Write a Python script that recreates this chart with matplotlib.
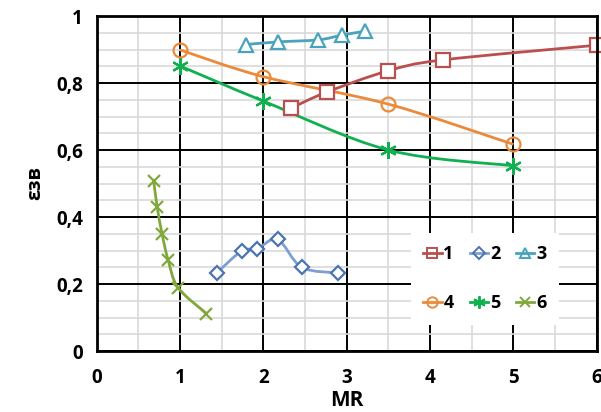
import numpy as np
import matplotlib
matplotlib.use('Agg')
from matplotlib import pyplot as plt
from matplotlib.path import Path
from matplotlib.patches import PathPatch
from matplotlib.ticker import MultipleLocator, FuncFormatter

plt.rcParams['font.family'] = ['Open Sans', 'DejaVu Sans']
plt.rcParams['font.weight'] = 'bold'

# series data (MR, eps)
x1 = [2.33, 2.76, 3.49, 4.15, 6.0]
y1 = [0.725, 0.773, 0.836, 0.869, 0.913]
x2 = [1.44, 1.74, 1.92, 2.17, 2.46, 2.90]
y2 = [0.233, 0.299, 0.304, 0.333, 0.25, 0.233]
x3 = [1.79, 2.18, 2.66, 2.94, 3.22]
y3 = [0.915, 0.923, 0.929, 0.943, 0.955]
x4 = [1.0, 2.0, 3.5, 5.0]
y4 = [0.899, 0.819, 0.737, 0.617]
x5 = [1.0, 2.0, 3.5, 5.0]
y5 = [0.851, 0.746, 0.600, 0.553]
x6 = [0.684, 0.724, 0.784, 0.856, 0.976, 1.316]
y6 = [0.507, 0.431, 0.349, 0.272, 0.189, 0.112]
labels = ['1', '2', '3', '4', '5', '6']


def smooth_patch(x, y, color, lw):
  """Excel-like smoothed line (Catmull-Rom as cubic Bezier)."""
  p = np.column_stack([x, y]).astype(float)
  pts = np.vstack([p[0], p, p[-1]])
  verts = [tuple(p[0])]
  codes = [Path.MOVETO]
  for i in range(1, len(pts) - 2):
    p0, p1, p2, p3 = pts[i - 1], pts[i], pts[i + 1], pts[i + 2]
    c1 = p1 + (p2 - p0) / 6.0
    c2 = p2 - (p3 - p1) / 6.0
    verts += [tuple(c1), tuple(c2), tuple(p2)]
    codes += [Path.CURVE4] * 3
  return PathPatch(Path(verts, codes), facecolor='none', edgecolor=color,
                   lw=lw, zorder=3)


fig = plt.figure(figsize=(6.01, 4.12), dpi=100)
ax = fig.add_axes([0.161, 0.148, 0.832, 0.813])

series = [
  (x1, y1, '#b9504e', '#b9504e', 's', 10),
  (x2, y2, '#7f9fd3', '#4a74b0', 'D', 7.5),
  (x3, y3, '#4aa3bd', '#4aa3bd', '^', 10),
  (x4, y4, '#ea8a3a', '#ea8a3a', 'o', 10),
  (x5, y5, '#10b050', '#10b050', (6, 2, 0), 12),
  (x6, y6, '#80a83c', '#80a83c', 'x', 9),
]

handles = []
for (x, y, lc, mc, m, ms), lab in zip(series, labels):
  ax.add_patch(smooth_patch(x, y, lc, 2))
  fc = 'white' if m in ('s', 'D', '^') else 'none'
  ax.plot(x, y, linestyle='none', marker=m, markersize=ms,
          markeredgecolor=mc, markerfacecolor=fc, markeredgewidth=1.6,
          zorder=4, clip_on=False)
  h, = ax.plot([], [], color=lc, lw=2, marker=m, markersize=ms * 0.75,
               markeredgecolor=mc, markerfacecolor='none', markeredgewidth=1.4,
               label=lab)
  handles.append(h)

ax.set_xlim(0, 6)
ax.set_ylim(0, 1)
ax.xaxis.set_major_locator(MultipleLocator(1))
ax.xaxis.set_minor_locator(MultipleLocator(0.5))
ax.yaxis.set_major_locator(MultipleLocator(0.2))
ax.yaxis.set_minor_locator(MultipleLocator(0.05))
ax.xaxis.set_major_formatter(FuncFormatter(lambda v, p: f'{v:g}'.replace('.', ',')))
ax.yaxis.set_major_formatter(FuncFormatter(lambda v, p: f'{v:g}'.replace('.', ',')))

ax.grid(which='minor', color='#d9d9d9', lw=1.2, zorder=0)
ax.grid(which='major', color='black', lw=1.4, zorder=1)
ax.set_axisbelow(True)
for s in ax.spines.values():
  s.set_linewidth(2)
  s.set_zorder(5)
ax.tick_params(which='both', length=0, labelsize=13.5)
ax.tick_params(axis='x', pad=12)
ax.tick_params(axis='y', pad=10)

ax.set_xlabel('MR', fontsize=15, fontweight='bold', labelpad=2)
ax.set_ylabel('εзв', fontsize=14, fontweight='bold', labelpad=8)

# row-major order: 1 2 3 / 4 5 6
order = [0, 3, 1, 4, 2, 5]
leg = ax.legend([handles[i] for i in order], [labels[i] for i in order],
                ncol=3, loc='upper left', bbox_to_anchor=(0.61, 0.38),
                frameon=True, fancybox=False, edgecolor='none',
                facecolor='white', framealpha=1,
                prop={'weight': 'bold', 'size': 13},
                handlelength=1.0, handletextpad=0.1, columnspacing=0.9,
                labelspacing=1.7, borderpad=0.7)
leg.set_zorder(6)

fig.savefig('out.png', dpi=100)
